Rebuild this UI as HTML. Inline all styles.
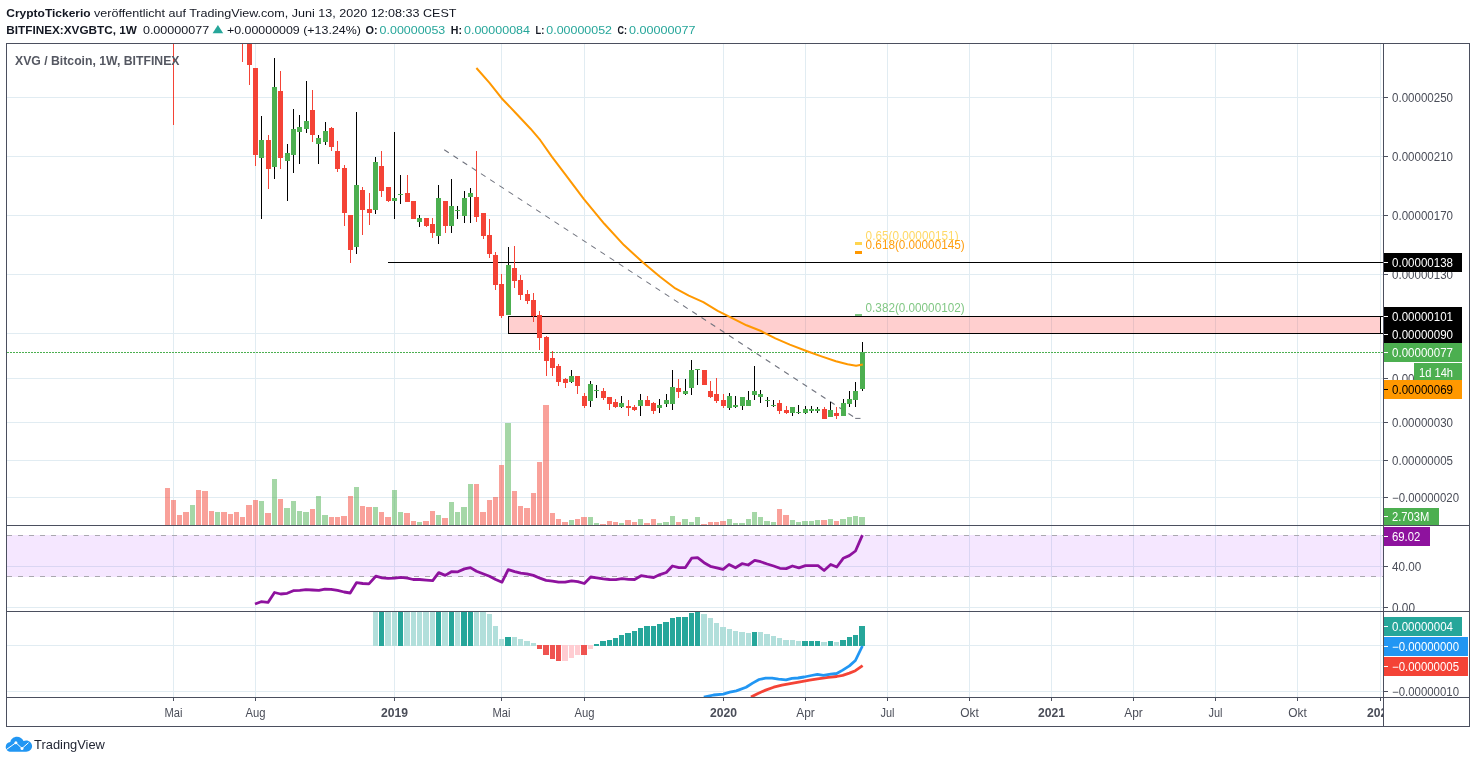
<!DOCTYPE html>
<html lang="de"><head><meta charset="utf-8"><title>XVG / Bitcoin</title>
<style>html,body{margin:0;padding:0;background:#fff;overflow:hidden}svg{display:block}</style></head>
<body>
<svg width="1476" height="763" viewBox="0 0 1476 763" font-family="'Liberation Sans', Arial, sans-serif">
<rect width="1476" height="763" fill="#fff"/>
<g shape-rendering="crispEdges">
<rect x="173" y="44" width="1" height="653" fill="#e1ecf2"/>
<rect x="255" y="44" width="1" height="653" fill="#e1ecf2"/>
<rect x="394" y="44" width="1" height="653" fill="#e1ecf2"/>
<rect x="501" y="44" width="1" height="653" fill="#e1ecf2"/>
<rect x="584" y="44" width="1" height="653" fill="#e1ecf2"/>
<rect x="723" y="44" width="1" height="653" fill="#e1ecf2"/>
<rect x="805" y="44" width="1" height="653" fill="#e1ecf2"/>
<rect x="887" y="44" width="1" height="653" fill="#e1ecf2"/>
<rect x="969" y="44" width="1" height="653" fill="#e1ecf2"/>
<rect x="1051" y="44" width="1" height="653" fill="#e1ecf2"/>
<rect x="1133" y="44" width="1" height="653" fill="#e1ecf2"/>
<rect x="1215" y="44" width="1" height="653" fill="#e1ecf2"/>
<rect x="1297" y="44" width="1" height="653" fill="#e1ecf2"/>
<rect x="1380" y="44" width="1" height="653" fill="#e1ecf2"/>
<rect x="7" y="97" width="1376" height="1" fill="#e1ecf2"/>
<rect x="7" y="156" width="1376" height="1" fill="#e1ecf2"/>
<rect x="7" y="215" width="1376" height="1" fill="#e1ecf2"/>
<rect x="7" y="274" width="1376" height="1" fill="#e1ecf2"/>
<rect x="7" y="333" width="1376" height="1" fill="#e1ecf2"/>
<rect x="7" y="378" width="1376" height="1" fill="#e1ecf2"/>
<rect x="7" y="422" width="1376" height="1" fill="#e1ecf2"/>
<rect x="7" y="460" width="1376" height="1" fill="#e1ecf2"/>
<rect x="7" y="497" width="1376" height="1" fill="#e1ecf2"/>
<rect x="7" y="566" width="1376" height="1" fill="#e1ecf2"/>
<rect x="7" y="607" width="1376" height="1" fill="#e1ecf2"/>
<rect x="7" y="645" width="1376" height="1" fill="#e1ecf2"/>
<rect x="7" y="691" width="1376" height="1" fill="#e1ecf2"/>
</g>
<rect x="7" y="535" width="1376" height="42" fill="#9915ff" fill-opacity="0.1"/>
<path d="M7 535.5H1383M7 576.5H1383" stroke="#aaa8b0" stroke-width="1" stroke-dasharray="5 6" shape-rendering="crispEdges" fill="none"/>
<g shape-rendering="crispEdges">
<rect x="165" y="488" width="5" height="37" fill="#f44336" fill-opacity="0.5"/>
<rect x="171" y="500" width="5" height="25" fill="#f44336" fill-opacity="0.5"/>
<rect x="177" y="515" width="5" height="10" fill="#f44336" fill-opacity="0.5"/>
<rect x="183" y="512" width="6" height="13" fill="#f44336" fill-opacity="0.5"/>
<rect x="190" y="505" width="5" height="20" fill="#4caf50" fill-opacity="0.5"/>
<rect x="196" y="490" width="5" height="35" fill="#f44336" fill-opacity="0.5"/>
<rect x="202" y="491" width="6" height="34" fill="#f44336" fill-opacity="0.5"/>
<rect x="209" y="511" width="5" height="14" fill="#f44336" fill-opacity="0.5"/>
<rect x="215" y="512" width="5" height="13" fill="#4caf50" fill-opacity="0.5"/>
<rect x="221" y="512" width="6" height="13" fill="#f44336" fill-opacity="0.5"/>
<rect x="228" y="514" width="5" height="11" fill="#f44336" fill-opacity="0.5"/>
<rect x="234" y="512" width="5" height="13" fill="#f44336" fill-opacity="0.5"/>
<rect x="240" y="517" width="5" height="8" fill="#f44336" fill-opacity="0.5"/>
<rect x="246" y="505" width="6" height="20" fill="#f44336" fill-opacity="0.5"/>
<rect x="253" y="500" width="5" height="25" fill="#f44336" fill-opacity="0.5"/>
<rect x="259" y="501" width="5" height="24" fill="#4caf50" fill-opacity="0.5"/>
<rect x="265" y="513" width="6" height="12" fill="#f44336" fill-opacity="0.5"/>
<rect x="272" y="479" width="5" height="46" fill="#4caf50" fill-opacity="0.5"/>
<rect x="278" y="499" width="5" height="26" fill="#f44336" fill-opacity="0.5"/>
<rect x="284" y="508" width="6" height="17" fill="#4caf50" fill-opacity="0.5"/>
<rect x="291" y="501" width="5" height="24" fill="#4caf50" fill-opacity="0.5"/>
<rect x="297" y="511" width="5" height="14" fill="#4caf50" fill-opacity="0.5"/>
<rect x="303" y="512" width="6" height="13" fill="#4caf50" fill-opacity="0.5"/>
<rect x="310" y="509" width="5" height="16" fill="#f44336" fill-opacity="0.5"/>
<rect x="316" y="496" width="5" height="29" fill="#4caf50" fill-opacity="0.5"/>
<rect x="322" y="515" width="6" height="10" fill="#4caf50" fill-opacity="0.5"/>
<rect x="329" y="517" width="5" height="8" fill="#f44336" fill-opacity="0.5"/>
<rect x="335" y="517" width="5" height="8" fill="#f44336" fill-opacity="0.5"/>
<rect x="341" y="516" width="6" height="9" fill="#f44336" fill-opacity="0.5"/>
<rect x="348" y="496" width="5" height="29" fill="#f44336" fill-opacity="0.5"/>
<rect x="354" y="487" width="5" height="38" fill="#4caf50" fill-opacity="0.5"/>
<rect x="360" y="506" width="5" height="19" fill="#f44336" fill-opacity="0.5"/>
<rect x="366" y="507" width="6" height="18" fill="#f44336" fill-opacity="0.5"/>
<rect x="373" y="507" width="5" height="18" fill="#4caf50" fill-opacity="0.5"/>
<rect x="379" y="512" width="5" height="13" fill="#f44336" fill-opacity="0.5"/>
<rect x="385" y="517" width="6" height="8" fill="#f44336" fill-opacity="0.5"/>
<rect x="392" y="490" width="5" height="35" fill="#4caf50" fill-opacity="0.5"/>
<rect x="398" y="512" width="5" height="13" fill="#4caf50" fill-opacity="0.5"/>
<rect x="404" y="513" width="6" height="12" fill="#f44336" fill-opacity="0.5"/>
<rect x="411" y="521" width="5" height="4" fill="#f44336" fill-opacity="0.5"/>
<rect x="417" y="522" width="5" height="3" fill="#4caf50" fill-opacity="0.5"/>
<rect x="423" y="521" width="6" height="4" fill="#f44336" fill-opacity="0.5"/>
<rect x="430" y="511" width="5" height="14" fill="#f44336" fill-opacity="0.5"/>
<rect x="436" y="515" width="5" height="10" fill="#4caf50" fill-opacity="0.5"/>
<rect x="442" y="518" width="6" height="7" fill="#f44336" fill-opacity="0.5"/>
<rect x="449" y="502" width="5" height="23" fill="#4caf50" fill-opacity="0.5"/>
<rect x="455" y="512" width="5" height="13" fill="#4caf50" fill-opacity="0.5"/>
<rect x="461" y="507" width="6" height="18" fill="#4caf50" fill-opacity="0.5"/>
<rect x="468" y="484" width="5" height="41" fill="#4caf50" fill-opacity="0.5"/>
<rect x="474" y="484" width="5" height="41" fill="#f44336" fill-opacity="0.5"/>
<rect x="480" y="512" width="6" height="13" fill="#f44336" fill-opacity="0.5"/>
<rect x="487" y="500" width="5" height="25" fill="#f44336" fill-opacity="0.5"/>
<rect x="493" y="497" width="5" height="28" fill="#f44336" fill-opacity="0.5"/>
<rect x="499" y="465" width="5" height="60" fill="#f44336" fill-opacity="0.5"/>
<rect x="505" y="423" width="6" height="102" fill="#4caf50" fill-opacity="0.5"/>
<rect x="512" y="491" width="5" height="34" fill="#f44336" fill-opacity="0.5"/>
<rect x="518" y="506" width="5" height="19" fill="#f44336" fill-opacity="0.5"/>
<rect x="524" y="508" width="6" height="17" fill="#f44336" fill-opacity="0.5"/>
<rect x="531" y="493" width="5" height="32" fill="#f44336" fill-opacity="0.5"/>
<rect x="537" y="462" width="5" height="63" fill="#f44336" fill-opacity="0.5"/>
<rect x="543" y="405" width="6" height="120" fill="#f44336" fill-opacity="0.5"/>
<rect x="550" y="513" width="5" height="12" fill="#f44336" fill-opacity="0.5"/>
<rect x="556" y="519" width="5" height="6" fill="#f44336" fill-opacity="0.5"/>
<rect x="562" y="522" width="6" height="3" fill="#f44336" fill-opacity="0.5"/>
<rect x="569" y="520" width="5" height="5" fill="#4caf50" fill-opacity="0.5"/>
<rect x="575" y="519" width="5" height="6" fill="#f44336" fill-opacity="0.5"/>
<rect x="581" y="517" width="6" height="8" fill="#f44336" fill-opacity="0.5"/>
<rect x="588" y="517" width="5" height="8" fill="#4caf50" fill-opacity="0.5"/>
<rect x="594" y="523" width="5" height="2" fill="#4caf50" fill-opacity="0.5"/>
<rect x="600" y="524" width="6" height="1" fill="#f44336" fill-opacity="0.5"/>
<rect x="607" y="521" width="5" height="4" fill="#f44336" fill-opacity="0.5"/>
<rect x="613" y="522" width="5" height="3" fill="#f44336" fill-opacity="0.5"/>
<rect x="619" y="523" width="5" height="2" fill="#4caf50" fill-opacity="0.5"/>
<rect x="625" y="520" width="6" height="5" fill="#f44336" fill-opacity="0.5"/>
<rect x="632" y="522" width="5" height="3" fill="#f44336" fill-opacity="0.5"/>
<rect x="638" y="519" width="5" height="6" fill="#4caf50" fill-opacity="0.5"/>
<rect x="644" y="523" width="6" height="2" fill="#f44336" fill-opacity="0.5"/>
<rect x="651" y="519" width="5" height="6" fill="#f44336" fill-opacity="0.5"/>
<rect x="657" y="523" width="5" height="2" fill="#4caf50" fill-opacity="0.5"/>
<rect x="663" y="522" width="6" height="3" fill="#4caf50" fill-opacity="0.5"/>
<rect x="670" y="516" width="5" height="9" fill="#4caf50" fill-opacity="0.5"/>
<rect x="676" y="522" width="5" height="3" fill="#f44336" fill-opacity="0.5"/>
<rect x="682" y="519" width="6" height="6" fill="#4caf50" fill-opacity="0.5"/>
<rect x="689" y="522" width="5" height="3" fill="#4caf50" fill-opacity="0.5"/>
<rect x="695" y="517" width="5" height="8" fill="#4caf50" fill-opacity="0.5"/>
<rect x="701" y="524" width="6" height="1" fill="#f44336" fill-opacity="0.5"/>
<rect x="708" y="522" width="5" height="3" fill="#f44336" fill-opacity="0.5"/>
<rect x="714" y="522" width="5" height="3" fill="#f44336" fill-opacity="0.5"/>
<rect x="720" y="521" width="6" height="4" fill="#f44336" fill-opacity="0.5"/>
<rect x="727" y="519" width="5" height="6" fill="#4caf50" fill-opacity="0.5"/>
<rect x="733" y="523" width="5" height="2" fill="#4caf50" fill-opacity="0.5"/>
<rect x="739" y="523" width="6" height="2" fill="#4caf50" fill-opacity="0.5"/>
<rect x="746" y="519" width="5" height="6" fill="#4caf50" fill-opacity="0.5"/>
<rect x="752" y="512" width="5" height="13" fill="#4caf50" fill-opacity="0.5"/>
<rect x="758" y="517" width="5" height="8" fill="#4caf50" fill-opacity="0.5"/>
<rect x="764" y="521" width="6" height="4" fill="#4caf50" fill-opacity="0.5"/>
<rect x="771" y="522" width="5" height="3" fill="#4caf50" fill-opacity="0.5"/>
<rect x="777" y="509" width="5" height="16" fill="#f44336" fill-opacity="0.5"/>
<rect x="783" y="515" width="6" height="10" fill="#f44336" fill-opacity="0.5"/>
<rect x="790" y="520" width="5" height="5" fill="#4caf50" fill-opacity="0.5"/>
<rect x="796" y="522" width="5" height="3" fill="#4caf50" fill-opacity="0.5"/>
<rect x="802" y="521" width="6" height="4" fill="#4caf50" fill-opacity="0.5"/>
<rect x="809" y="521" width="5" height="4" fill="#4caf50" fill-opacity="0.5"/>
<rect x="815" y="520" width="5" height="5" fill="#4caf50" fill-opacity="0.5"/>
<rect x="821" y="520" width="6" height="5" fill="#f44336" fill-opacity="0.5"/>
<rect x="828" y="519" width="5" height="6" fill="#4caf50" fill-opacity="0.5"/>
<rect x="834" y="521" width="5" height="4" fill="#f44336" fill-opacity="0.5"/>
<rect x="840" y="519" width="6" height="6" fill="#4caf50" fill-opacity="0.5"/>
<rect x="847" y="517" width="5" height="8" fill="#4caf50" fill-opacity="0.5"/>
<rect x="853" y="516" width="5" height="9" fill="#4caf50" fill-opacity="0.5"/>
<rect x="859" y="517" width="6" height="8" fill="#4caf50" fill-opacity="0.5"/>
</g>
<g shape-rendering="crispEdges">
<rect x="508" y="316" width="873" height="18" fill="#ff5252" fill-opacity="0.28"/>
<rect x="508" y="316" width="876" height="1" fill="#000"/>
<rect x="508" y="333" width="876" height="1" fill="#000"/>
<rect x="508" y="316" width="1" height="18" fill="#000"/>
<rect x="1380" y="316" width="1" height="18" fill="#000"/>
<rect x="388" y="262" width="995" height="1" fill="#000"/>
</g>
<path d="M7 352.5H1383" stroke="#4caf50" stroke-width="1" stroke-dasharray="2 1" fill="none" shape-rendering="crispEdges"/>
<path d="M444.2 149.7L855.7 418.2" stroke="#70737e" stroke-width="1.05" stroke-dasharray="5.5 5.47" fill="none"/>
<path d="M855.2 418.4H860.5" stroke="#70737e" stroke-width="1.05" fill="none"/>
<g shape-rendering="crispEdges">
<rect x="173" y="44" width="1" height="81" fill="#f44336"/>
<rect x="242" y="44" width="1" height="18" fill="#f44336"/>
<rect x="249" y="44" width="1" height="41" fill="#f44336"/>
<rect x="247" y="44" width="5" height="21" fill="#f44336"/>
<rect x="255" y="68" width="1" height="98" fill="#f44336"/>
<rect x="253" y="68" width="5" height="87" fill="#f44336"/>
<rect x="261" y="116" width="1" height="103" fill="#000"/>
<rect x="259" y="140" width="5" height="18" fill="#4caf50"/>
<rect x="268" y="135" width="1" height="54" fill="#f44336"/>
<rect x="266" y="140" width="5" height="29" fill="#f44336"/>
<rect x="274" y="58" width="1" height="121" fill="#000"/>
<rect x="272" y="87" width="5" height="80" fill="#4caf50"/>
<rect x="280" y="71" width="1" height="98" fill="#f44336"/>
<rect x="278" y="91" width="5" height="67" fill="#f44336"/>
<rect x="287" y="144" width="1" height="57" fill="#000"/>
<rect x="285" y="153" width="5" height="8" fill="#4caf50"/>
<rect x="293" y="109" width="1" height="64" fill="#000"/>
<rect x="291" y="129" width="5" height="26" fill="#4caf50"/>
<rect x="299" y="115" width="1" height="49" fill="#000"/>
<rect x="297" y="127" width="5" height="5" fill="#4caf50"/>
<rect x="306" y="81" width="1" height="52" fill="#000"/>
<rect x="304" y="121" width="5" height="8" fill="#4caf50"/>
<rect x="312" y="90" width="1" height="52" fill="#f44336"/>
<rect x="310" y="110" width="5" height="25" fill="#f44336"/>
<rect x="318" y="135" width="1" height="29" fill="#000"/>
<rect x="316" y="138" width="5" height="6" fill="#4caf50"/>
<rect x="325" y="122" width="1" height="23" fill="#000"/>
<rect x="323" y="131" width="5" height="11" fill="#4caf50"/>
<rect x="331" y="127" width="1" height="24" fill="#f44336"/>
<rect x="329" y="128" width="5" height="19" fill="#f44336"/>
<rect x="337" y="141" width="1" height="31" fill="#f44336"/>
<rect x="335" y="151" width="5" height="18" fill="#f44336"/>
<rect x="344" y="165" width="1" height="61" fill="#f44336"/>
<rect x="342" y="168" width="5" height="45" fill="#f44336"/>
<rect x="350" y="215" width="1" height="48" fill="#f44336"/>
<rect x="348" y="215" width="5" height="35" fill="#f44336"/>
<rect x="356" y="112" width="1" height="142" fill="#000"/>
<rect x="354" y="185" width="5" height="62" fill="#4caf50"/>
<rect x="362" y="187" width="1" height="48" fill="#f44336"/>
<rect x="360" y="190" width="5" height="20" fill="#f44336"/>
<rect x="369" y="193" width="1" height="32" fill="#f44336"/>
<rect x="367" y="209" width="5" height="4" fill="#f44336"/>
<rect x="375" y="157" width="1" height="57" fill="#000"/>
<rect x="373" y="162" width="5" height="48" fill="#4caf50"/>
<rect x="381" y="151" width="1" height="46" fill="#f44336"/>
<rect x="379" y="166" width="5" height="25" fill="#f44336"/>
<rect x="388" y="187" width="1" height="15" fill="#f44336"/>
<rect x="386" y="187" width="5" height="14" fill="#f44336"/>
<rect x="394" y="132" width="1" height="87" fill="#000"/>
<rect x="392" y="198" width="5" height="3" fill="#4caf50"/>
<rect x="400" y="175" width="1" height="29" fill="#000"/>
<rect x="398" y="194" width="5" height="1" fill="#4caf50"/>
<rect x="407" y="175" width="1" height="27" fill="#f44336"/>
<rect x="405" y="193" width="5" height="9" fill="#f44336"/>
<rect x="413" y="201" width="1" height="18" fill="#f44336"/>
<rect x="411" y="201" width="5" height="18" fill="#f44336"/>
<rect x="419" y="215" width="1" height="12" fill="#000"/>
<rect x="417" y="218" width="5" height="4" fill="#4caf50"/>
<rect x="426" y="218" width="1" height="9" fill="#f44336"/>
<rect x="424" y="218" width="5" height="8" fill="#f44336"/>
<rect x="432" y="218" width="1" height="20" fill="#f44336"/>
<rect x="430" y="224" width="5" height="9" fill="#f44336"/>
<rect x="438" y="185" width="1" height="59" fill="#000"/>
<rect x="436" y="198" width="5" height="38" fill="#4caf50"/>
<rect x="445" y="201" width="1" height="32" fill="#f44336"/>
<rect x="443" y="201" width="5" height="25" fill="#f44336"/>
<rect x="451" y="179" width="1" height="54" fill="#000"/>
<rect x="449" y="206" width="5" height="20" fill="#4caf50"/>
<rect x="457" y="206" width="1" height="13" fill="#000"/>
<rect x="455" y="210" width="5" height="1" fill="#4caf50"/>
<rect x="464" y="191" width="1" height="32" fill="#000"/>
<rect x="462" y="198" width="5" height="18" fill="#4caf50"/>
<rect x="470" y="188" width="1" height="35" fill="#000"/>
<rect x="468" y="193" width="5" height="4" fill="#4caf50"/>
<rect x="476" y="151" width="1" height="71" fill="#f44336"/>
<rect x="474" y="197" width="5" height="20" fill="#f44336"/>
<rect x="483" y="213" width="1" height="26" fill="#f44336"/>
<rect x="481" y="213" width="5" height="23" fill="#f44336"/>
<rect x="489" y="219" width="1" height="39" fill="#f44336"/>
<rect x="487" y="235" width="5" height="19" fill="#f44336"/>
<rect x="495" y="252" width="1" height="38" fill="#f44336"/>
<rect x="493" y="255" width="5" height="30" fill="#f44336"/>
<rect x="501" y="274" width="1" height="44" fill="#f44336"/>
<rect x="499" y="284" width="5" height="32" fill="#f44336"/>
<rect x="508" y="247" width="1" height="68" fill="#000"/>
<rect x="506" y="265" width="5" height="50" fill="#4caf50"/>
<rect x="514" y="246" width="1" height="42" fill="#f44336"/>
<rect x="512" y="268" width="5" height="13" fill="#f44336"/>
<rect x="520" y="275" width="1" height="25" fill="#f44336"/>
<rect x="518" y="280" width="5" height="15" fill="#f44336"/>
<rect x="527" y="290" width="1" height="14" fill="#f44336"/>
<rect x="525" y="294" width="5" height="7" fill="#f44336"/>
<rect x="533" y="293" width="1" height="29" fill="#f44336"/>
<rect x="531" y="300" width="5" height="16" fill="#f44336"/>
<rect x="539" y="311" width="1" height="39" fill="#f44336"/>
<rect x="537" y="315" width="5" height="23" fill="#f44336"/>
<rect x="546" y="336" width="1" height="40" fill="#f44336"/>
<rect x="544" y="337" width="5" height="24" fill="#f44336"/>
<rect x="552" y="351" width="1" height="25" fill="#f44336"/>
<rect x="550" y="358" width="5" height="10" fill="#f44336"/>
<rect x="558" y="364" width="1" height="22" fill="#f44336"/>
<rect x="556" y="366" width="5" height="16" fill="#f44336"/>
<rect x="565" y="378" width="1" height="10" fill="#f44336"/>
<rect x="563" y="379" width="5" height="4" fill="#f44336"/>
<rect x="571" y="370" width="1" height="13" fill="#000"/>
<rect x="569" y="376" width="5" height="6" fill="#4caf50"/>
<rect x="577" y="376" width="1" height="18" fill="#f44336"/>
<rect x="575" y="376" width="5" height="10" fill="#f44336"/>
<rect x="584" y="393" width="1" height="15" fill="#f44336"/>
<rect x="582" y="396" width="5" height="10" fill="#f44336"/>
<rect x="590" y="381" width="1" height="26" fill="#000"/>
<rect x="588" y="384" width="5" height="17" fill="#4caf50"/>
<rect x="596" y="385" width="1" height="13" fill="#000"/>
<rect x="594" y="390" width="5" height="1" fill="#4caf50"/>
<rect x="603" y="388" width="1" height="12" fill="#f44336"/>
<rect x="601" y="391" width="5" height="7" fill="#f44336"/>
<rect x="609" y="397" width="1" height="13" fill="#f44336"/>
<rect x="607" y="397" width="5" height="7" fill="#f44336"/>
<rect x="615" y="399" width="1" height="9" fill="#f44336"/>
<rect x="613" y="402" width="5" height="5" fill="#f44336"/>
<rect x="621" y="396" width="1" height="12" fill="#000"/>
<rect x="619" y="403" width="5" height="4" fill="#4caf50"/>
<rect x="628" y="400" width="1" height="16" fill="#f44336"/>
<rect x="626" y="406" width="5" height="2" fill="#f44336"/>
<rect x="634" y="405" width="1" height="6" fill="#f44336"/>
<rect x="632" y="407" width="5" height="3" fill="#f44336"/>
<rect x="640" y="394" width="1" height="22" fill="#000"/>
<rect x="638" y="400" width="5" height="6" fill="#4caf50"/>
<rect x="647" y="396" width="1" height="10" fill="#f44336"/>
<rect x="645" y="400" width="5" height="6" fill="#f44336"/>
<rect x="653" y="402" width="1" height="12" fill="#f44336"/>
<rect x="651" y="403" width="5" height="8" fill="#f44336"/>
<rect x="659" y="399" width="1" height="14" fill="#000"/>
<rect x="657" y="405" width="5" height="3" fill="#4caf50"/>
<rect x="666" y="394" width="1" height="13" fill="#000"/>
<rect x="664" y="400" width="5" height="4" fill="#4caf50"/>
<rect x="672" y="370" width="1" height="40" fill="#000"/>
<rect x="670" y="387" width="5" height="17" fill="#4caf50"/>
<rect x="678" y="379" width="1" height="19" fill="#f44336"/>
<rect x="676" y="388" width="5" height="4" fill="#f44336"/>
<rect x="685" y="379" width="1" height="16" fill="#000"/>
<rect x="683" y="391" width="5" height="3" fill="#4caf50"/>
<rect x="691" y="360" width="1" height="35" fill="#000"/>
<rect x="689" y="370" width="5" height="18" fill="#4caf50"/>
<rect x="697" y="369" width="1" height="16" fill="#000"/>
<rect x="695" y="369" width="5" height="1" fill="#4caf50"/>
<rect x="704" y="370" width="1" height="15" fill="#f44336"/>
<rect x="702" y="370" width="5" height="15" fill="#f44336"/>
<rect x="710" y="381" width="1" height="17" fill="#f44336"/>
<rect x="708" y="391" width="5" height="6" fill="#f44336"/>
<rect x="716" y="378" width="1" height="25" fill="#f44336"/>
<rect x="714" y="394" width="5" height="7" fill="#f44336"/>
<rect x="723" y="394" width="1" height="14" fill="#f44336"/>
<rect x="721" y="400" width="5" height="6" fill="#f44336"/>
<rect x="729" y="393" width="1" height="17" fill="#000"/>
<rect x="727" y="396" width="5" height="12" fill="#4caf50"/>
<rect x="735" y="396" width="1" height="12" fill="#000"/>
<rect x="733" y="405" width="5" height="2" fill="#4caf50"/>
<rect x="742" y="397" width="1" height="13" fill="#000"/>
<rect x="740" y="397" width="5" height="9" fill="#4caf50"/>
<rect x="748" y="391" width="1" height="15" fill="#000"/>
<rect x="746" y="400" width="5" height="6" fill="#4caf50"/>
<rect x="754" y="366" width="1" height="34" fill="#000"/>
<rect x="752" y="391" width="5" height="4" fill="#4caf50"/>
<rect x="760" y="390" width="1" height="13" fill="#000"/>
<rect x="758" y="394" width="5" height="3" fill="#4caf50"/>
<rect x="767" y="397" width="1" height="10" fill="#000"/>
<rect x="765" y="400" width="5" height="1" fill="#4caf50"/>
<rect x="773" y="400" width="1" height="7" fill="#000"/>
<rect x="771" y="405" width="5" height="1" fill="#4caf50"/>
<rect x="779" y="400" width="1" height="14" fill="#f44336"/>
<rect x="777" y="403" width="5" height="8" fill="#f44336"/>
<rect x="786" y="406" width="1" height="8" fill="#f44336"/>
<rect x="784" y="410" width="5" height="3" fill="#f44336"/>
<rect x="792" y="407" width="1" height="9" fill="#000"/>
<rect x="790" y="407" width="5" height="6" fill="#4caf50"/>
<rect x="798" y="405" width="1" height="9" fill="#000"/>
<rect x="796" y="412" width="5" height="1" fill="#4caf50"/>
<rect x="805" y="406" width="1" height="8" fill="#000"/>
<rect x="803" y="409" width="5" height="4" fill="#4caf50"/>
<rect x="811" y="406" width="1" height="7" fill="#000"/>
<rect x="809" y="409" width="5" height="2" fill="#4caf50"/>
<rect x="817" y="407" width="1" height="6" fill="#000"/>
<rect x="815" y="409" width="5" height="2" fill="#4caf50"/>
<rect x="824" y="407" width="1" height="12" fill="#f44336"/>
<rect x="822" y="409" width="5" height="10" fill="#f44336"/>
<rect x="830" y="402" width="1" height="15" fill="#000"/>
<rect x="828" y="410" width="5" height="7" fill="#4caf50"/>
<rect x="836" y="407" width="1" height="12" fill="#f44336"/>
<rect x="834" y="413" width="5" height="3" fill="#f44336"/>
<rect x="843" y="399" width="1" height="17" fill="#000"/>
<rect x="841" y="403" width="5" height="13" fill="#4caf50"/>
<rect x="849" y="391" width="1" height="16" fill="#000"/>
<rect x="847" y="399" width="5" height="5" fill="#4caf50"/>
<rect x="855" y="382" width="1" height="25" fill="#000"/>
<rect x="853" y="391" width="5" height="9" fill="#4caf50"/>
<rect x="862" y="342" width="1" height="49" fill="#000"/>
<rect x="860" y="352" width="5" height="37" fill="#4caf50"/>
</g>
<path d="M476.4 68 L489.5 82.8 L501.6 98.2 L515.7 113 L530.5 128.7 L540.3 140.2 L551.8 156.6 L564.9 173.9 L583.9 199.2 L604.3 223.8 L623.9 245.1 L643.6 263.1 L660 276.8 L674.4 287.8 L688.8 295.6 L703.3 302.2 L717.7 310.9 L729.2 316.6 L746.5 325.3 L761 331 L775.4 338.3 L789.8 344.6 L807.1 351.2 L821.5 356.4 L835.9 361.3 L847.5 364.2 L856.1 365.7 L862.8 364.4" stroke="#ff9800" stroke-width="2" fill="none" stroke-linejoin="round"/>
<rect x="855" y="242" width="7" height="3" fill="#ffd54f" shape-rendering="crispEdges"/>
<rect x="855" y="251" width="7" height="3" fill="#ff9800" shape-rendering="crispEdges"/>
<rect x="855" y="314" width="7" height="2" fill="#81c784" shape-rendering="crispEdges"/>
<text x="865.6" y="240" font-size="12" fill="#ffd966" textLength="93" lengthAdjust="spacingAndGlyphs">0.65(0.00000151)</text>
<text x="865.6" y="249.3" font-size="12" fill="#ff9d0d" textLength="99" lengthAdjust="spacingAndGlyphs">0.618(0.00000145)</text>
<text x="865.6" y="312.4" font-size="12" fill="#81c784" textLength="99" lengthAdjust="spacingAndGlyphs">0.382(0.00000102)</text>
<path d="M255 604 L261.1 601.7 L268 602.4 L274.5 592.5 L280.7 594 L287.2 593.3 L293.3 590.7 L299.8 590.4 L305.9 589.7 L312.4 590 L318.9 590.4 L324.9 589.1 L331.1 589.4 L337.6 590.4 L344.1 592 L350.2 593 L356.6 582.6 L362.8 583.5 L368.9 583.9 L375.8 576.2 L382 577.8 L388 578.3 L394.5 578.2 L401 577.4 L407.5 578.2 L413.2 579.5 L419.7 579.5 L426.2 580.1 L432.7 580.6 L438.7 572.6 L445.2 575.4 L451.4 571.7 L457.9 571.8 L464.4 568.9 L470.4 567.6 L476.5 571.3 L483 573.8 L489.5 576.2 L495.7 579.5 L502 582.2 L508.2 569.7 L514.7 571.7 L520.7 573.1 L526.9 573.8 L533.4 575.4 L539.9 578.2 L546.1 580.3 L552.4 581.1 L558.6 582.2 L565.1 582.2 L571.6 580.8 L577.8 581.6 L584.3 583.5 L590.7 577 L596.8 577.8 L603.3 578.8 L609.5 579.5 L615.9 579.6 L622 578.7 L628.5 579.3 L634.6 579.5 L641.1 575.7 L647.2 576.7 L653.7 577.5 L659.9 574.6 L666.3 572.5 L672.4 566 L678.9 567.6 L685.4 567.6 L691.6 558.2 L697.6 557.7 L704.1 562.7 L710.3 566.3 L716.8 567.8 L723 569.4 L729 564.5 L735.5 567.8 L742 563.7 L748.2 565 L754.7 560.4 L760.7 561.7 L767.2 564 L773.7 566 L779.9 568.3 L786.3 568.6 L792.4 566 L798.9 567.9 L805.4 565.7 L811.6 565.7 L818 565.7 L824.1 570.5 L830.7 564.5 L836.8 567 L843.2 558.3 L849.3 555.6 L855.5 551 L862.4 535.1" stroke="#8e129e" stroke-width="2.8" fill="none" stroke-linejoin="round"/>
<g shape-rendering="crispEdges">
<rect x="373" y="612" width="5" height="34" fill="#b2dfdb"/>
<rect x="379" y="612" width="5" height="34" fill="#26a69a"/>
<rect x="385" y="612" width="6" height="34" fill="#b2dfdb"/>
<rect x="392" y="612" width="5" height="34" fill="#b2dfdb"/>
<rect x="398" y="612" width="5" height="34" fill="#26a69a"/>
<rect x="404" y="612" width="6" height="34" fill="#b2dfdb"/>
<rect x="411" y="612" width="5" height="34" fill="#b2dfdb"/>
<rect x="417" y="612" width="5" height="34" fill="#b2dfdb"/>
<rect x="423" y="612" width="6" height="34" fill="#b2dfdb"/>
<rect x="430" y="612" width="5" height="34" fill="#b2dfdb"/>
<rect x="436" y="612" width="5" height="34" fill="#26a69a"/>
<rect x="442" y="612" width="6" height="34" fill="#b2dfdb"/>
<rect x="449" y="612" width="5" height="34" fill="#26a69a"/>
<rect x="455" y="612" width="5" height="34" fill="#b2dfdb"/>
<rect x="461" y="612" width="6" height="34" fill="#26a69a"/>
<rect x="468" y="612" width="5" height="34" fill="#26a69a"/>
<rect x="474" y="612" width="5" height="34" fill="#b2dfdb"/>
<rect x="480" y="612" width="6" height="34" fill="#b2dfdb"/>
<rect x="487" y="614" width="5" height="32" fill="#b2dfdb"/>
<rect x="493" y="626" width="5" height="20" fill="#b2dfdb"/>
<rect x="499" y="639" width="5" height="7" fill="#b2dfdb"/>
<rect x="505" y="637" width="6" height="9" fill="#26a69a"/>
<rect x="512" y="637" width="5" height="9" fill="#b2dfdb"/>
<rect x="518" y="639" width="5" height="7" fill="#b2dfdb"/>
<rect x="524" y="641" width="6" height="5" fill="#b2dfdb"/>
<rect x="531" y="643" width="5" height="3" fill="#b2dfdb"/>
<rect x="537" y="645" width="5" height="4" fill="#ef5350"/>
<rect x="543" y="645" width="6" height="10" fill="#ef5350"/>
<rect x="550" y="645" width="5" height="14" fill="#ef5350"/>
<rect x="556" y="645" width="5" height="16" fill="#ef5350"/>
<rect x="562" y="645" width="6" height="16" fill="#ffcdd2"/>
<rect x="569" y="645" width="5" height="13" fill="#ffcdd2"/>
<rect x="575" y="645" width="5" height="10" fill="#ffcdd2"/>
<rect x="581" y="645" width="6" height="10" fill="#ef5350"/>
<rect x="588" y="645" width="5" height="4" fill="#ffcdd2"/>
<rect x="594" y="644" width="5" height="2" fill="#26a69a"/>
<rect x="600" y="641" width="6" height="5" fill="#26a69a"/>
<rect x="607" y="640" width="5" height="6" fill="#26a69a"/>
<rect x="613" y="638" width="5" height="8" fill="#26a69a"/>
<rect x="619" y="635" width="5" height="11" fill="#26a69a"/>
<rect x="625" y="633" width="6" height="13" fill="#26a69a"/>
<rect x="632" y="631" width="5" height="15" fill="#26a69a"/>
<rect x="638" y="628" width="5" height="18" fill="#26a69a"/>
<rect x="644" y="626" width="6" height="20" fill="#26a69a"/>
<rect x="651" y="626" width="5" height="20" fill="#26a69a"/>
<rect x="657" y="624" width="5" height="22" fill="#26a69a"/>
<rect x="663" y="622" width="6" height="24" fill="#26a69a"/>
<rect x="670" y="618" width="5" height="28" fill="#26a69a"/>
<rect x="676" y="617" width="5" height="29" fill="#26a69a"/>
<rect x="682" y="617" width="6" height="29" fill="#26a69a"/>
<rect x="689" y="613" width="5" height="33" fill="#26a69a"/>
<rect x="695" y="612" width="5" height="34" fill="#26a69a"/>
<rect x="701" y="614" width="6" height="32" fill="#b2dfdb"/>
<rect x="708" y="618" width="5" height="28" fill="#b2dfdb"/>
<rect x="714" y="623" width="5" height="23" fill="#b2dfdb"/>
<rect x="720" y="627" width="6" height="19" fill="#b2dfdb"/>
<rect x="727" y="629" width="5" height="17" fill="#b2dfdb"/>
<rect x="733" y="631" width="5" height="15" fill="#b2dfdb"/>
<rect x="739" y="632" width="6" height="14" fill="#b2dfdb"/>
<rect x="746" y="633" width="5" height="13" fill="#b2dfdb"/>
<rect x="752" y="632" width="5" height="14" fill="#26a69a"/>
<rect x="758" y="632" width="5" height="14" fill="#b2dfdb"/>
<rect x="764" y="634" width="6" height="12" fill="#b2dfdb"/>
<rect x="771" y="636" width="5" height="10" fill="#b2dfdb"/>
<rect x="777" y="638" width="5" height="8" fill="#b2dfdb"/>
<rect x="783" y="640" width="6" height="6" fill="#b2dfdb"/>
<rect x="790" y="640" width="5" height="6" fill="#b2dfdb"/>
<rect x="796" y="641" width="5" height="5" fill="#b2dfdb"/>
<rect x="802" y="641" width="6" height="5" fill="#26a69a"/>
<rect x="809" y="641" width="5" height="5" fill="#26a69a"/>
<rect x="815" y="641" width="5" height="5" fill="#26a69a"/>
<rect x="821" y="642" width="6" height="4" fill="#b2dfdb"/>
<rect x="828" y="641" width="5" height="5" fill="#26a69a"/>
<rect x="834" y="642" width="5" height="4" fill="#b2dfdb"/>
<rect x="840" y="640" width="6" height="6" fill="#26a69a"/>
<rect x="847" y="637" width="5" height="9" fill="#26a69a"/>
<rect x="853" y="635" width="5" height="11" fill="#26a69a"/>
<rect x="859" y="626" width="6" height="20" fill="#26a69a"/>
</g>
<clipPath id="cm"><rect x="7" y="612" width="1376" height="85"/></clipPath>
<g clip-path="url(#cm)">
<path d="M751 697.1 L757.5 693.7 L765.6 690.1 L773.7 687.2 L781.9 685.2 L791.6 683.3 L801.4 681.6 L809.5 680.2 L817.6 678.8 L828.3 677.4 L836.7 676.5 L842.7 675.3 L849.4 673.1 L855.4 670.7 L862.6 665.7" stroke="#f44336" stroke-width="2.8" fill="none" stroke-linejoin="round"/>
<path d="M703.8 697.1 L713.6 695 L723.3 694.2 L729.8 692.1 L736.3 690.9 L746.1 687.2 L752.6 683.1 L759.1 679.5 L765.6 678.2 L772.1 678.2 L778.6 679.1 L786 679.8 L792 678.4 L798 678 L804.1 677 L811.4 675.5 L817.4 674.3 L823.4 675.3 L830.7 674.1 L836.7 673.5 L842.7 670.1 L849.4 665.9 L855.4 660.5 L862.4 646" stroke="#2196f3" stroke-width="2.8" fill="none" stroke-linejoin="round"/>
</g>
<g shape-rendering="crispEdges">
<rect x="6" y="43" width="1464" height="1" fill="#4b4f5e"/>
<rect x="6" y="726" width="1464" height="1" fill="#4b4f5e"/>
<rect x="6" y="43" width="1" height="684" fill="#4b4f5e"/>
<rect x="1469" y="43" width="1" height="684" fill="#4b4f5e"/>
<rect x="1383" y="43" width="1" height="684" fill="#4b4f5e"/>
<rect x="6" y="525" width="1464" height="1" fill="#4b4f5e"/>
<rect x="6" y="611" width="1464" height="1" fill="#4b4f5e"/>
<rect x="6" y="697" width="1464" height="1" fill="#4b4f5e"/>
<rect x="173" y="697" width="1" height="4" fill="#4b4f5e"/>
<rect x="255" y="697" width="1" height="4" fill="#4b4f5e"/>
<rect x="394" y="697" width="1" height="4" fill="#4b4f5e"/>
<rect x="501" y="697" width="1" height="4" fill="#4b4f5e"/>
<rect x="584" y="697" width="1" height="4" fill="#4b4f5e"/>
<rect x="723" y="697" width="1" height="4" fill="#4b4f5e"/>
<rect x="805" y="697" width="1" height="4" fill="#4b4f5e"/>
<rect x="887" y="697" width="1" height="4" fill="#4b4f5e"/>
<rect x="969" y="697" width="1" height="4" fill="#4b4f5e"/>
<rect x="1051" y="697" width="1" height="4" fill="#4b4f5e"/>
<rect x="1133" y="697" width="1" height="4" fill="#4b4f5e"/>
<rect x="1215" y="697" width="1" height="4" fill="#4b4f5e"/>
<rect x="1297" y="697" width="1" height="4" fill="#4b4f5e"/>
<rect x="1380" y="697" width="1" height="4" fill="#4b4f5e"/>
<rect x="1383" y="97" width="5" height="1" fill="#4b4f5e"/>
<rect x="1383" y="156" width="5" height="1" fill="#4b4f5e"/>
<rect x="1383" y="215" width="5" height="1" fill="#4b4f5e"/>
<rect x="1383" y="274" width="5" height="1" fill="#4b4f5e"/>
<rect x="1383" y="378" width="5" height="1" fill="#4b4f5e"/>
<rect x="1383" y="422" width="5" height="1" fill="#4b4f5e"/>
<rect x="1383" y="460" width="5" height="1" fill="#4b4f5e"/>
<rect x="1383" y="497" width="5" height="1" fill="#4b4f5e"/>
<rect x="1383" y="566" width="5" height="1" fill="#4b4f5e"/>
<rect x="1383" y="607" width="5" height="1" fill="#4b4f5e"/>
<rect x="1383" y="691" width="5" height="1" fill="#4b4f5e"/>
</g>
<text x="1392" y="101.6" font-size="12" fill="#4a4d58" textLength="61" lengthAdjust="spacingAndGlyphs">0.00000250</text>
<text x="1392" y="160.6" font-size="12" fill="#4a4d58" textLength="61" lengthAdjust="spacingAndGlyphs">0.00000210</text>
<text x="1392" y="219.6" font-size="12" fill="#4a4d58" textLength="61" lengthAdjust="spacingAndGlyphs">0.00000170</text>
<text x="1392" y="278.6" font-size="12" fill="#4a4d58" textLength="61" lengthAdjust="spacingAndGlyphs">0.00000130</text>
<text x="1392" y="382.6" font-size="12" fill="#4a4d58" textLength="61" lengthAdjust="spacingAndGlyphs">0.00000050</text>
<text x="1392" y="426.6" font-size="12" fill="#4a4d58" textLength="61" lengthAdjust="spacingAndGlyphs">0.00000030</text>
<text x="1392" y="464.6" font-size="12" fill="#4a4d58" textLength="61" lengthAdjust="spacingAndGlyphs">0.00000005</text>
<text x="1392" y="501.6" font-size="12" fill="#4a4d58" textLength="67" lengthAdjust="spacingAndGlyphs">−0.00000020</text>
<text x="1392" y="570.6" font-size="12" fill="#4a4d58" textLength="29.3" lengthAdjust="spacingAndGlyphs">40.00</text>
<text x="1392" y="611.6" font-size="12" fill="#4a4d58" textLength="23" lengthAdjust="spacingAndGlyphs">0.00</text>
<text x="1392" y="695.6" font-size="12" fill="#4a4d58" textLength="67" lengthAdjust="spacingAndGlyphs">−0.00000010</text>
<rect x="1384" y="253" width="78" height="19" fill="#000" shape-rendering="crispEdges"/>
<rect x="1384" y="262" width="4" height="1" fill="#fff" shape-rendering="crispEdges"/>
<text x="1392" y="267.1" font-size="12" fill="#fff" textLength="61" lengthAdjust="spacingAndGlyphs">0.00000138</text>
<rect x="1384" y="307" width="78" height="18" fill="#000" shape-rendering="crispEdges"/>
<rect x="1384" y="316" width="4" height="1" fill="#fff" shape-rendering="crispEdges"/>
<text x="1392" y="320.6" font-size="12" fill="#fff" textLength="61" lengthAdjust="spacingAndGlyphs">0.00000101</text>
<rect x="1384" y="325" width="78" height="18" fill="#000" shape-rendering="crispEdges"/>
<rect x="1384" y="334" width="4" height="1" fill="#fff" shape-rendering="crispEdges"/>
<text x="1392" y="338.6" font-size="12" fill="#fff" textLength="61" lengthAdjust="spacingAndGlyphs">0.00000090</text>
<rect x="1384" y="343" width="78" height="19" fill="#4caf50" shape-rendering="crispEdges"/>
<rect x="1384" y="352" width="4" height="1" fill="#fff" shape-rendering="crispEdges"/>
<text x="1392" y="357.1" font-size="12" fill="#fff" textLength="61" lengthAdjust="spacingAndGlyphs">0.00000077</text>
<rect x="1414" y="363" width="48" height="17" fill="#4caf50" shape-rendering="crispEdges"/>
<text x="1419" y="377" font-size="12" fill="#fff" textLength="34" lengthAdjust="spacingAndGlyphs">1d 14h</text>
<rect x="1384" y="380" width="78" height="19" fill="#ff9800" shape-rendering="crispEdges"/>
<rect x="1384" y="389" width="4" height="1" fill="#000" shape-rendering="crispEdges"/>
<text x="1392" y="394.1" font-size="12" fill="#000" textLength="61" lengthAdjust="spacingAndGlyphs">0.00000069</text>
<rect x="1384" y="508" width="55" height="17" fill="#4caf50" shape-rendering="crispEdges"/>
<rect x="1384" y="516" width="4" height="1" fill="#fff" shape-rendering="crispEdges"/>
<text x="1392" y="521.1" font-size="12" fill="#fff" textLength="37.3" lengthAdjust="spacingAndGlyphs">2.703M</text>
<rect x="1384" y="527" width="46" height="19" fill="#8e129e" shape-rendering="crispEdges"/>
<rect x="1384" y="536" width="4" height="1" fill="#fff" shape-rendering="crispEdges"/>
<text x="1392" y="541.1" font-size="12" fill="#fff" textLength="28.4" lengthAdjust="spacingAndGlyphs">69.02</text>
<rect x="1384" y="617" width="78" height="19" fill="#26a69a" shape-rendering="crispEdges"/>
<rect x="1384" y="626" width="4" height="1" fill="#fff" shape-rendering="crispEdges"/>
<text x="1392" y="631.1" font-size="12" fill="#fff" textLength="61" lengthAdjust="spacingAndGlyphs">0.00000004</text>
<rect x="1384" y="637" width="84" height="19" fill="#2196f3" shape-rendering="crispEdges"/>
<rect x="1384" y="646" width="4" height="1" fill="#fff" shape-rendering="crispEdges"/>
<text x="1392" y="651.1" font-size="12" fill="#fff" textLength="67" lengthAdjust="spacingAndGlyphs">−0.00000000</text>
<rect x="1384" y="657" width="84" height="19" fill="#f44336" shape-rendering="crispEdges"/>
<rect x="1384" y="666" width="4" height="1" fill="#fff" shape-rendering="crispEdges"/>
<text x="1392" y="671.1" font-size="12" fill="#fff" textLength="67" lengthAdjust="spacingAndGlyphs">−0.00000005</text>
<text x="173.5" y="717" font-size="12" fill="#4a4d58" text-anchor="middle" textLength="18" lengthAdjust="spacingAndGlyphs">Mai</text>
<text x="255.5" y="717" font-size="12" fill="#4a4d58" text-anchor="middle" textLength="20" lengthAdjust="spacingAndGlyphs">Aug</text>
<text x="394.5" y="717" font-size="12" fill="#4a4d58" font-weight="bold" text-anchor="middle" textLength="27" lengthAdjust="spacingAndGlyphs">2019</text>
<text x="501.5" y="717" font-size="12" fill="#4a4d58" text-anchor="middle" textLength="18" lengthAdjust="spacingAndGlyphs">Mai</text>
<text x="584.5" y="717" font-size="12" fill="#4a4d58" text-anchor="middle" textLength="20" lengthAdjust="spacingAndGlyphs">Aug</text>
<text x="723.5" y="717" font-size="12" fill="#4a4d58" font-weight="bold" text-anchor="middle" textLength="27" lengthAdjust="spacingAndGlyphs">2020</text>
<text x="805.5" y="717" font-size="12" fill="#4a4d58" text-anchor="middle" textLength="18.5" lengthAdjust="spacingAndGlyphs">Apr</text>
<text x="887.5" y="717" font-size="12" fill="#4a4d58" text-anchor="middle" textLength="14" lengthAdjust="spacingAndGlyphs">Jul</text>
<text x="969.5" y="717" font-size="12" fill="#4a4d58" text-anchor="middle" textLength="18.5" lengthAdjust="spacingAndGlyphs">Okt</text>
<text x="1051.5" y="717" font-size="12" fill="#4a4d58" font-weight="bold" text-anchor="middle" textLength="27" lengthAdjust="spacingAndGlyphs">2021</text>
<text x="1133.5" y="717" font-size="12" fill="#4a4d58" text-anchor="middle" textLength="18.5" lengthAdjust="spacingAndGlyphs">Apr</text>
<text x="1215.5" y="717" font-size="12" fill="#4a4d58" text-anchor="middle" textLength="14" lengthAdjust="spacingAndGlyphs">Jul</text>
<text x="1297.5" y="717" font-size="12" fill="#4a4d58" text-anchor="middle" textLength="18.5" lengthAdjust="spacingAndGlyphs">Okt</text>
<clipPath id="ct"><rect x="7" y="698" width="1376" height="28"/></clipPath>
<g clip-path="url(#ct)">
<text x="1380.5" y="717" font-size="12" fill="#4a4d58" font-weight="bold" text-anchor="middle" textLength="27" lengthAdjust="spacingAndGlyphs">2022</text>
</g>
<text x="15" y="64.9" font-size="12.2" fill="#555862" font-weight="bold" textLength="164.5" lengthAdjust="spacingAndGlyphs">XVG / Bitcoin, 1W, BITFINEX</text>
<text x="6.3" y="16.5" font-size="11.8" fill="#131722" font-weight="bold" textLength="84.4" lengthAdjust="spacingAndGlyphs">CryptoTickerio</text>
<text x="94" y="16.5" font-size="11.8" fill="#131722" textLength="362.5" lengthAdjust="spacingAndGlyphs">veröffentlicht auf TradingView.com, Juni 13, 2020 12:08:33 CEST</text>
<text x="6.3" y="33.6" font-size="11.8" fill="#131722" font-weight="bold" textLength="130.6" lengthAdjust="spacingAndGlyphs">BITFINEX:XVGBTC, 1W</text>
<text x="142.9" y="33.6" font-size="11.8" fill="#131722" textLength="66.4" lengthAdjust="spacingAndGlyphs">0.00000077</text>
<path d="M212.6 33.3L217.9 25L223.2 33.3Z" fill="#26a69a"/>
<text x="226.9" y="33.6" font-size="11.8" fill="#131722" textLength="134" lengthAdjust="spacingAndGlyphs">+0.00000009 (+13.24%)</text>
<text x="365.5" y="33.6" font-size="11.8" fill="#131722" font-weight="bold" textLength="12.1" lengthAdjust="spacingAndGlyphs">O:</text>
<text x="379.6" y="33.6" font-size="11.8" fill="#26a69a" textLength="65.7" lengthAdjust="spacingAndGlyphs">0.00000053</text>
<text x="450.8" y="33.6" font-size="11.8" fill="#131722" font-weight="bold" textLength="11.2" lengthAdjust="spacingAndGlyphs">H:</text>
<text x="464" y="33.6" font-size="11.8" fill="#26a69a" textLength="66" lengthAdjust="spacingAndGlyphs">0.00000084</text>
<text x="535.5" y="33.6" font-size="11.8" fill="#131722" font-weight="bold" textLength="8.8" lengthAdjust="spacingAndGlyphs">L:</text>
<text x="546.3" y="33.6" font-size="11.8" fill="#26a69a" textLength="65.7" lengthAdjust="spacingAndGlyphs">0.00000052</text>
<text x="617.5" y="33.6" font-size="11.8" fill="#131722" font-weight="bold" textLength="9.5" lengthAdjust="spacingAndGlyphs">C:</text>
<text x="629" y="33.6" font-size="11.8" fill="#26a69a" textLength="66.5" lengthAdjust="spacingAndGlyphs">0.00000077</text>
<g transform="translate(5.7,736.8)">
<path d="M5.2 14.9 C2.3 14.9 0 12.8 0 10.1 C0 7.5 2 5.5 4.6 5.2 C5.3 2.2 8 0 11.3 0 C14.2 0 16.7 1.7 17.8 4.2 C18.6 3.8 19.5 3.6 20.4 3.6 C23.7 3.6 26.4 6.1 26.4 9.3 C26.4 12.4 23.7 14.9 20.4 14.9 Z" fill="#2196f3"/>
<path d="M0.6 12.8 L10.2 5.9 L16.3 11.6 L22.8 5.9" stroke="#fff" stroke-width="1" fill="none"/>
<circle cx="10.2" cy="5.9" r="1.5" fill="#fff"/><circle cx="16.3" cy="11.6" r="1.5" fill="#fff"/>
</g>
<text x="34.1" y="748.7" font-size="13" fill="#1e2230" textLength="70.8" lengthAdjust="spacingAndGlyphs">TradingView</text>
</svg>
</body></html>
